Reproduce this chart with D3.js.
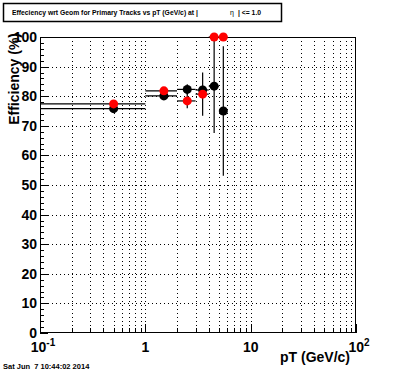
<!DOCTYPE html>
<html><head><meta charset="utf-8">
<script src="https://cdn.jsdelivr.net/npm/d3@7"></script>
<style>body{margin:0;background:#fff}svg{display:block}text{font-family:"Liberation Sans",Arial,sans-serif}</style>
</head><body>
<script>
// Data (bins in pT, GeV/c)
const binLow  = [0, 1, 2, 3, 4, 5];
const binHigh = [1, 2, 3, 4, 5, 6];
const binCenter = [0.5, 1.5, 2.5, 3.5, 4.5, 5.5];
const blackEff = [75.8, 80.1, 82.3, 82.1, 83.4, 75.0];
const blackErr = [0.6, 0.8, 1.7, 1.5, 15.8, 21.9];
const redEff = [77.4, 81.8, 78.4, 80.7, 100, 100];
const redErr = [0.6, 0.8, 2.5, 7.3, 0, 0];
const xTickLabels = [{v:0.1,b:"10",e:"-1"},{v:1,b:"1",e:""},{v:10,b:"10",e:""},{v:100,b:"10",e:"2"}];
const yTicks = [0,10,20,30,40,50,60,70,80,90,100];

const W=396,H=372;
const svg=d3.select("body").append("svg").attr("width",W).attr("height",H);
const L=40,R=356,T=37,B=333;
const x=d3.scaleLog().domain([0.1,100]).range([L,R]);
const y=d3.scaleLinear().domain([0,100]).range([B,T]);

// grid
const minorX=[];
[0.1,1,10].forEach(d=>{for(let k=1;k<10;k++) minorX.push(d*k);});
minorX.push(100);
const gx=minorX.filter(v=>v>0.1+1e-9 && v<100-1e-9);
svg.append("g").selectAll("line").data(gx).join("line")
 .attr("x1",d=>Math.round(x(d))+0.5).attr("x2",d=>Math.round(x(d))+0.5).attr("y1",T).attr("y2",B)
 .attr("stroke","#000").attr("stroke-width",1).attr("stroke-dasharray","1,3");
svg.append("g").selectAll("line").data(yTicks.filter(v=>v>0&&v<100)).join("line")
 .attr("y1",d=>Math.round(y(d))+0.5).attr("y2",d=>Math.round(y(d))+0.5).attr("x1",L).attr("x2",R)
 .attr("stroke","#000").attr("stroke-width",1).attr("stroke-dasharray","1,3");

// frame
svg.append("rect").attr("x",L+0.5).attr("y",T+0.5).attr("width",R-L-1).attr("height",B-T-1)
 .attr("fill","none").attr("stroke","#000").attr("stroke-width",1);

// y axis ticks (inward)
const ax=svg.append("g");
d3.range(0,101,2).forEach(v=>{
  const len = v%10===0?8:4;
  ax.append("line").attr("x1",L).attr("x2",L+len).attr("y1",Math.round(y(v))+0.5).attr("y2",Math.round(y(v))+0.5).attr("stroke","#000");
});
// x axis ticks (inward, upward)
minorX.forEach(v=>{
  const major=[0.1,1,10,100].some(m=>Math.abs(m-v)<1e-9);
  const len=major?9:5;
  ax.append("line").attr("x1",Math.round(x(v))+0.5).attr("x2",Math.round(x(v))+0.5).attr("y1",B).attr("y2",B-len).attr("stroke","#000");
});

// y tick labels
svg.append("g").selectAll("text").data(yTicks).join("text")
 .attr("x",L-3).attr("y",d=>y(d)+5).attr("text-anchor","end")
 .attr("font-size",14).attr("font-weight","bold").text(d=>d);

// x tick labels
xTickLabels.forEach(t=>{
  const tx=svg.append("text").attr("y",352).attr("font-size",14).attr("font-weight","bold").attr("text-anchor","middle").attr("x",x(t.v)+(t.e?3:0));
  tx.append("tspan").text(t.b);
  if(t.e) tx.append("tspan").attr("dy",-6).attr("font-size",10).text(t.e);
});

// axis titles
svg.append("text").attr("x",350).attr("y",362).attr("text-anchor","end").attr("font-size",14).attr("font-weight","bold").text("pT (GeV/c)");
svg.append("text").attr("transform","translate(19,33) rotate(-90)").attr("text-anchor","end").attr("font-size",14).attr("font-weight","bold").text("Efficiency (%)");

// title box
svg.append("rect").attr("x",3.5).attr("y",3.5).attr("width",278).attr("height",18).attr("fill","#fff").attr("stroke","#000").attr("stroke-width",1.5);
svg.append("text").attr("x",12).attr("y",15).attr("font-size",6.8).attr("font-weight","bold").text("Effeciency wrt Geom for Primary Tracks vs pT (GeV/c) at |");
svg.append("text").attr("x",230).attr("y",15).attr("font-size",7).text("η");
svg.append("text").attr("x",238).attr("y",15).attr("font-size",6.8).attr("font-weight","bold").text("| <= 1.0");

// date
svg.append("text").attr("x",3).attr("y",369).attr("font-size",7.5).attr("font-weight","bold").text("Sat Jun  7 10:44:02 2014").attr("xml:space","preserve").style("white-space","pre");

// data series
svg.append("clipPath").attr("id","clip").append("rect").attr("x",L).attr("y",T-6).attr("width",R-L).attr("height",B-T+6);
function series(eff,err,color){
  const g=svg.append("g").attr("clip-path","url(#clip)");
  binCenter.forEach((c,i)=>{
    const lo=Math.max(binLow[i],0.1);
    g.append("line").attr("x1",x(lo)).attr("x2",x(binHigh[i])).attr("y1",y(eff[i])).attr("y2",y(eff[i])).attr("stroke","#000").attr("stroke-width",1.2);
    if(err[i]>0){
      g.append("line").attr("x1",x(c)).attr("x2",x(c)).attr("y1",y(Math.min(eff[i]+err[i],100))).attr("y2",y(eff[i]-err[i])).attr("stroke","#000").attr("stroke-width",1.2);
    }
  });
  const g2=svg.append("g");
  g2.selectAll("circle").data(binCenter).join("circle")
   .attr("cx",d=>x(d)).attr("cy",(d,i)=>y(eff[i])).attr("r",4.5).attr("fill",color);
}
series(blackEff,blackErr,"#000");
series(redEff,redErr,"#ff0000");
</script>
</body></html>
